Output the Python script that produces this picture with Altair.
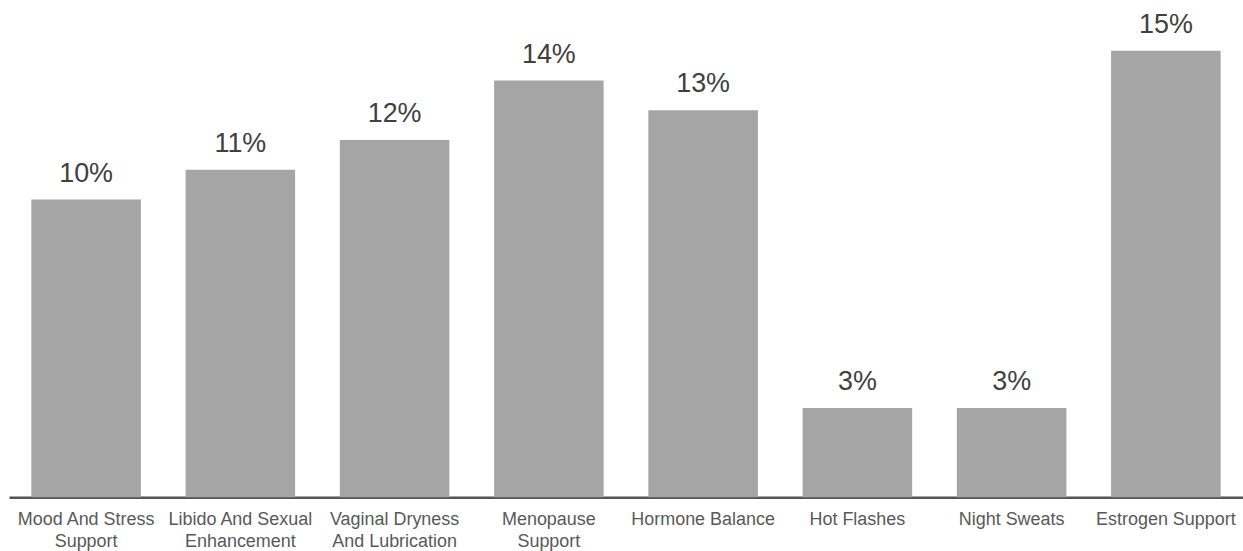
import altair as alt
import pandas as pd

# Share of products by benefit claim (percent)
categories = [
    "Mood And Stress|Support",
    "Libido And Sexual|Enhancement",
    "Vaginal Dryness|And Lubrication",
    "Menopause|Support",
    "Hormone Balance",
    "Hot Flashes",
    "Night Sweats",
    "Estrogen Support",
]
shares = [10, 11, 12, 14, 13, 3, 3, 15]

df = pd.DataFrame({"category": categories, "share": shares})

FONT = "Liberation Sans"

x_enc = alt.X(
    "category:N",
    sort=None,
    title=None,
    scale=alt.Scale(paddingInner=0.29, paddingOuter=0.145),
    axis=alt.Axis(
        labelExpr="split(datum.label, '|')",
        labelAngle=0,
        labelFont=FONT,
        labelFontSize=18,
        labelColor="#595959",
        labelLineHeight=22,
        labelPadding=13,
        labelBaseline="top",
        ticks=False,
        domainColor="#555555",
        domainWidth=2.5,
        grid=False,
    ),
)
y_enc = alt.Y("share:Q", axis=None, scale=alt.Scale(domain=[0, 15], nice=False, zero=True))

base = alt.Chart(df).encode(x=x_enc, y=y_enc)

bars = base.mark_bar(color="#a5a5a5")

labels = base.transform_calculate(
    label="datum.share + '%'"
).mark_text(
    baseline="alphabetic",
    dy=-18,
    font=FONT,
    fontSize=27,
    color="#404040",
).encode(text="label:N")

chart = (
    alt.layer(bars, labels)
    .properties(
        width=1238,
        height=448,
        autosize=alt.AutoSizeParams(type="none"),
        padding={"left": 9, "top": 50, "right": 0, "bottom": 53},
        background="white",
    )
    .configure_view(stroke=None)
)

chart.save("out.html", embed_options={"renderer": "svg", "actions": False})
